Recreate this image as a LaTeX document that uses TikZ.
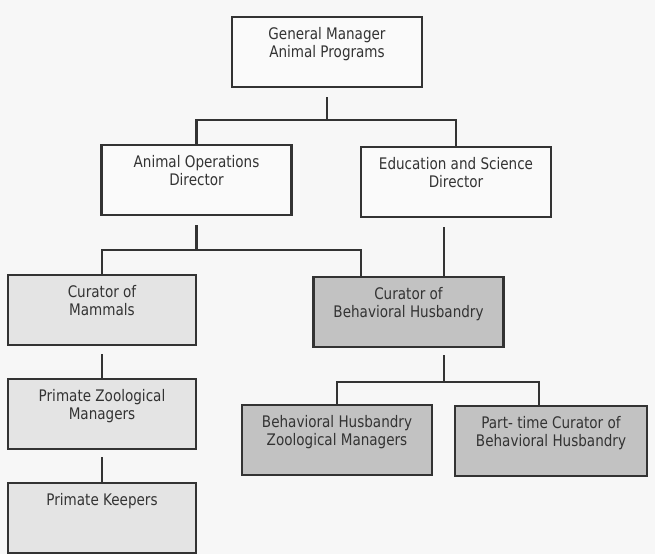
\documentclass[tikz,border=0pt]{standalone}
\usepackage{fontspec}
\setmainfont{DejaVu Sans}[FakeStretch=0.85]
\definecolor{paper}{HTML}{F7F7F7}
\definecolor{ink}{HTML}{333333}
\definecolor{lightbox}{HTML}{E4E4E4}
\definecolor{darkbox}{HTML}{C2C2C2}
\tikzset{
    post/.style={draw=ink, line width=2.2bp, fill=#1, minimum width=190bp,
        minimum height=70bp, inner sep=4bp, align=center, text depth=20bp,
        font=\fontsize{16}{18}\selectfont, text=ink},
    post/.default=paper!60!white,
    link/.style={draw=ink, line width=2.2bp}
}

\begin{document}
\begin{tikzpicture}[x=1bp,y=-1bp]
    \fill[paper] (0,0) rectangle (655,554);
    \useasboundingbox (0,0) rectangle (655,554);
    % top
    \node[post] (gm) at (327,52) {General Manager\\Animal Programs};
    % directors
    \node[post] (aod) at (196.5,180) {Animal Operations\\Director};
    \node[post] (esd) at (456,182) {Education and Science\\Director};
    % curators
    \node[post=lightbox, minimum width=188bp] (com) at (102,310) {Curator of\\Mammals};
    \node[post=darkbox] (cbh) at (408.5,312) {Curator of\\Behavioral Husbandry};
    \node[post=lightbox, minimum width=188bp] (pzm) at (102,414) {Primate Zoological\\Managers};
    \node[post=lightbox, minimum width=188bp, text depth=38bp] (pk) at (102,518) {Primate Keepers};
    \node[post=darkbox] (bhzm) at (337,440) {Behavioral Husbandry\\Zoological Managers};
    \node[post=darkbox, minimum width=192bp] (ptc) at (551,441) {Part- time Curator of\\Behavioral Husbandry};

    \draw[link] ([yshift=-9bp]gm.south) -- ++(0,-23bp) coordinate (gmbar);
    \draw[link] (aod.north) |- (gmbar) -| (esd.north);
    \draw[link] ([yshift=-9bp]aod.south) -- ++(0,-25bp) coordinate (aodbar);
    \draw[link] (com.north) |- (aodbar) -| ([xshift=-47.5bp]cbh.north);
    \draw[link] ([xshift=-12bp,yshift=-9bp]esd.south) -- ([xshift=-12bp]esd.south |- cbh.north);
    \draw[link] ([xshift=35.5bp,yshift=-7bp]cbh.south) -- ++(0,-27bp) coordinate (cbhbar);
    \draw[link] (bhzm.north) |- (cbhbar) -| ([xshift=-12bp]ptc.north);
    \draw[link] ([yshift=-8bp]com.south) -- (pzm.north);
    \draw[link] ([yshift=-7bp]pzm.south) -- (pk.north);
\end{tikzpicture}
\end{document}
